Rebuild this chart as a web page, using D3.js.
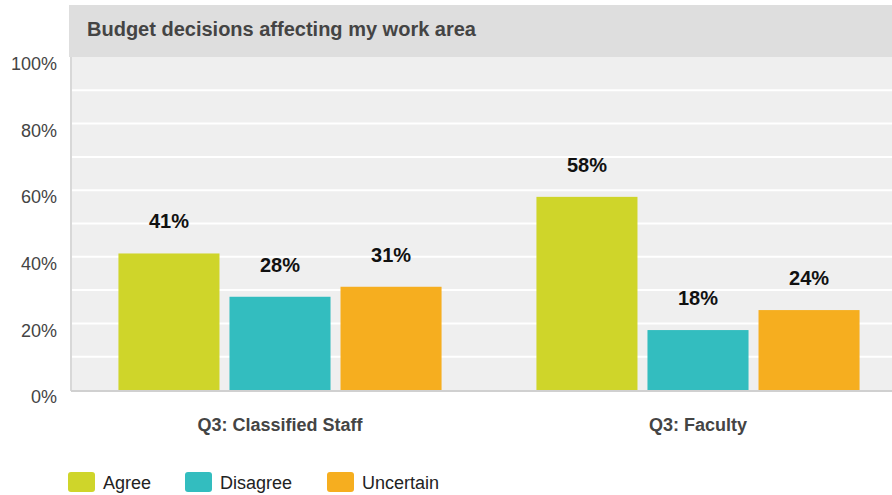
<!DOCTYPE html>
<html>
<head>
<meta charset="utf-8">
<script src="https://cdn.jsdelivr.net/npm/d3@7"></script>
<style>
  html, body { margin: 0; padding: 0; background: #fff; }
  svg { display: block; font-family: "Liberation Sans", Arial, sans-serif; }
</style>
</head>
<body>
<svg id="chart" width="892" height="495"></svg>
<script>
const title = "Budget decisions affecting my work area";
const categories = ["Q3: Classified Staff", "Q3: Faculty"];
const seriesNames = ["Agree", "Disagree", "Uncertain"];
const agree = [41, 58];
const disagree = [28, 18];
const uncertain = [31, 24];
const yTicks = [0, 20, 40, 60, 80, 100];
const gridTicks = [10, 20, 30, 40, 50, 60, 70, 80, 90];
const colors = ["#cfd52a", "#33bdbf", "#f6ae1f"];

const seriesValues = [agree, disagree, uncertain];
const data = categories.map((c, i) => ({
  cat: c,
  vals: seriesNames.map((s, j) => ({ key: s, value: seriesValues[j][i], color: colors[j] }))
}));

const svg = d3.select("#chart");
const plotLeft = 71, plotRight = 892, plotTop = 57, plotBottom = 390;

const y = d3.scaleLinear().domain([0, 100]).range([plotBottom, plotTop]);
const x0 = d3.scaleBand().domain(categories).range([plotLeft, 907])
  .paddingInner(0.227).paddingOuter(0.1135);
const x1 = d3.scaleBand().domain(seriesNames).range([0, x0.bandwidth()])
  .paddingInner(0.09).paddingOuter(0);

// header band
svg.append("rect").attr("x", 69).attr("y", 5).attr("width", 892 - 69).attr("height", plotTop - 5)
  .attr("fill", "#dedede");
svg.append("text").attr("x", 87).attr("y", 36).text(title)
  .attr("font-size", 20).attr("font-weight", "bold").attr("fill", "#444");

// plot background
svg.append("rect").attr("x", plotLeft).attr("y", plotTop)
  .attr("width", plotRight - plotLeft).attr("height", plotBottom - plotTop)
  .attr("fill", "#efefef");

// gridlines
svg.append("g").selectAll("line").data(gridTicks).join("line")
  .attr("x1", plotLeft).attr("x2", plotRight)
  .attr("y1", d => y(d)).attr("y2", d => y(d))
  .attr("stroke", "#fff").attr("stroke-width", 2);

// y axis labels
const yAxis = d3.axisLeft(y).tickValues(yTicks).tickFormat(d => d + "%").tickSize(0).tickPadding(14);
const gy = svg.append("g").attr("transform", `translate(${plotLeft},0)`).call(yAxis);
gy.select(".domain").remove();
gy.selectAll("text").attr("font-size", 18).attr("fill", "#444")
  .attr("font-family", "Liberation Sans, Arial, sans-serif")
  .attr("dy", "0.7em").attr("y", 0);

// bars
const groups = svg.append("g").selectAll("g").data(data).join("g")
  .attr("transform", d => `translate(${x0(d.cat)},0)`);
groups.selectAll("rect").data(d => d.vals).join("rect")
  .attr("x", d => x1(d.key)).attr("width", x1.bandwidth())
  .attr("y", d => y(d.value)).attr("height", d => y(0) - y(d.value))
  .attr("fill", d => d.color);
groups.selectAll("text").data(d => d.vals).join("text")
  .attr("x", d => x1(d.key) + x1.bandwidth() / 2)
  .attr("y", d => y(d.value) - 25)
  .attr("text-anchor", "middle").attr("font-size", 20).attr("font-weight", "bold")
  .attr("fill", "#111").text(d => d.value + "%");

// axis lines
svg.append("line").attr("x1", plotLeft).attr("x2", plotLeft).attr("y1", plotTop).attr("y2", plotBottom + 1)
  .attr("stroke", "#d8d8d8").attr("stroke-width", 2);
svg.append("line").attr("x1", plotLeft).attr("x2", plotRight).attr("y1", plotBottom + 1).attr("y2", plotBottom + 1)
  .attr("stroke", "#d0d0d0").attr("stroke-width", 2);

// x axis labels
const xAxis = d3.axisBottom(x0).tickSize(0).tickPadding(0);
const gx = svg.append("g").attr("transform", `translate(0,${plotBottom})`).call(xAxis);
gx.select(".domain").remove();
gx.selectAll("text").attr("font-size", 18).attr("font-weight", "bold").attr("fill", "#444")
  .attr("font-family", "Liberation Sans, Arial, sans-serif")
  .attr("dy", null).attr("y", 41);

// legend
const legendX = [68, 185, 327];
const lg = svg.append("g").selectAll("g").data(seriesNames).join("g")
  .attr("transform", (d, i) => `translate(${legendX[i]},472)`);
lg.append("rect").attr("width", 27).attr("height", 20).attr("rx", 3)
  .attr("fill", (d, i) => colors[i]);
lg.append("text").attr("x", 35).attr("y", 16.5).attr("font-size", 18).attr("fill", "#222").text(d => d);
</script>
</body>
</html>
